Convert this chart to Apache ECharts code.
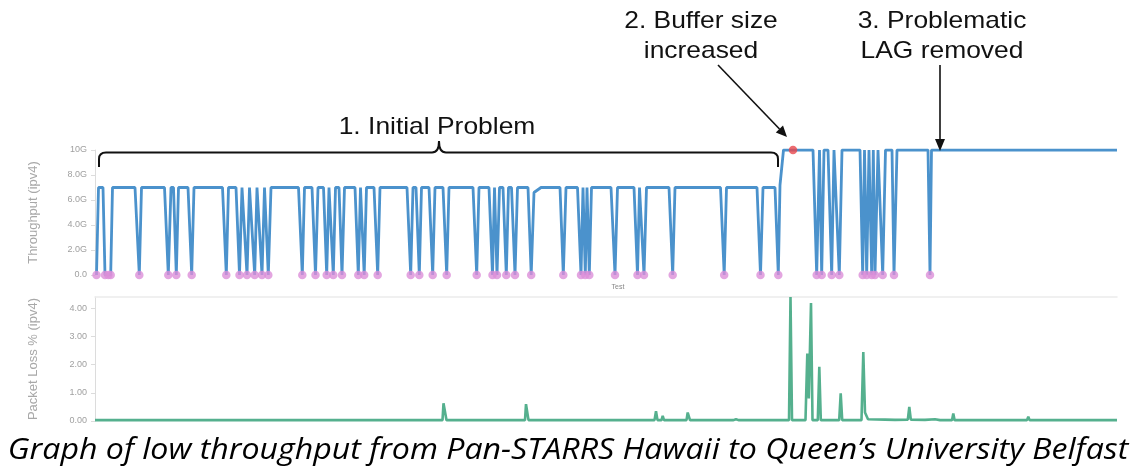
<!DOCTYPE html>
<html>
<head>
<meta charset="utf-8">
<script src="https://cdn.jsdelivr.net/npm/echarts@6/dist/echarts.min.js"></script>
<style>
html,body{margin:0;padding:0;background:#fff;}
#chart{width:1137px;height:469px;}
</style>
</head>
<body>
<div id="chart"></div>
<script>
// x = test index (time order), throughput in Gbit/s
const throughput = [
  [1.5,0],[3.5,7],[8,7],[10,0],[13.3,0],[15.7,0],[17.5,7],
  [40,7],[44.3,0],[46.5,7],
  [69.5,7],[73.3,0],[76,7],[78.5,7],[81.3,0],[83.5,7],
  [93,7],[96.7,0],[99,7],
  [127.5,7],[131.3,0],[133.5,7],
  [141,7],[144.5,0],[147,7],[149,7],[152,0],[154.5,7],[156.5,7],[159.7,0],[162,7],[164,7],[167,0],[169.5,7],[171,7],[173.3,0],[176,7],
  [203.5,7],[207.3,0],[209.5,7],
  [217,7],[220.5,0],[223,7],[228.5,7],[231.7,0],[234,7],[235.5,7],[238.3,0],[240.5,7],[244,7],[247,0],[249.5,7],
  [260,7],[263.3,0],[265.5,7],[266.5,7],[269.2,0],[271.5,7],
  [279,7],[282.7,0],[285,7],
  [312,7],[315.7,0],[318,7],[321,7],[324.3,0],[326.5,7],
  [334,7],[337.7,0],[340,7],[348,7],[351.7,0],[354,7],
  [378,7],[381.7,0],[384,7],
  [394,7],[397.5,0],[399.5,7],[400,7],[402,0],[404.5,7],
  [408,7],[411.3,0],[413.5,7],[416.5,7],[420,0],[422.5,7],
  [433,7],[436.2,0],[439,6.6],[446,7],
  [465,7],[468.3,0],[471,7],
  [482.5,7],[486,0],[488,7],[488.5,7],[490.3,0],[492,7],[492.5,7],[494.3,0],[496.5,7],
  [516,7],[520,0],[522.5,7],
  [539,7],[542.5,0],[544.5,7],[546,7],[549,0],[551.5,7],
  [574,7],[577.7,0],[580,7],
  [625.5,7],[629.2,0],[631.5,7],
  [662,7],[665.5,0],[668,7],
  [680,7],[683.3,0],[685,7.2],[688.5,10],
  [698,10],
  [718,10],[721.7,0],[724.5,10],[725,10],[726.7,0],[729,10],[733,10],[736.7,0],[739,10],[741,10],[744.3,0],[747,10],
  [765,10],[767.7,0],[769.5,10],[770,10],[771.7,0],[774,10],[775,10],[776.7,0],[778.3,10],[778.5,10],[780,0],[783,10],
  [785,10],[787.7,0],[790.5,10],
  [797,10],[799,0],[802,10],
  [833,10],[835,0],[836.5,10],
  [1022,10]
];
const bufferChangePoint = [[698,10]];
// packet loss %
const packetLoss = [
  [0,0.03],[347.5,0.03],[348.5,0.63],[350.5,0.63],[351.5,0.03],
  [430,0.03],[431,0.6],[432.5,0.6],[433.5,0.03],
  [559.5,0.03],[561,0.35],[562.5,0.03],
  [566.5,0.03],[567.7,0.18],[569,0.03],
  [591.5,0.03],[592.7,0.3],[594,0.3],[595,0.03],
  [638,0.03],[641,0.06],[644,0.03],
  [694,0.03],[695.5,4.4],[697,0.03],
  [710.5,0.03],[712.3,2.39],[713.8,0.8],[716,4.19],[717.5,0.03],
  [722.8,0.03],[724.3,1.92],[725.8,0.03],
  [744.2,0.03],[745.7,0.98],[747.2,0.03],
  [766.5,0.03],[768.3,2.45],[770,0.3],[771.7,0.25],[773,0.06],
  [790,0.05],[800,0.04],[812.8,0.05],[814.3,0.5],[815.8,0.05],
  [830,0.04],[840,0.06],[845,0.03],
  [857,0.03],[858.3,0.27],[859.6,0.03],
  [932,0.03],[933.3,0.15],[934.6,0.03],
  [1022,0.03]
];
const throughputTicks = [0,2,4,6,8,10];
const lossTicks = [0,1,2,3,4];

const zeroPoints = throughput.filter(p => p[1] === 0);

const chart = echarts.init(document.getElementById('chart'), null, {renderer:'canvas'});

const axisGray = '#dcdcdc';
const labelGray = '#a0a0a0';
const annFont = '"Liberation Sans", Arial, sans-serif';
const ink = '#111';

function annText(text, x, y) {
  return {type:'text', x:x, y:y, scaleX:1.1, z:100,
    style:{text:text, fontSize:24, fontFamily:annFont, fill:ink, textAlign:'center', textVerticalAlign:'middle'}};
}
function seg(x1,y1,x2,y2,w) {
  return {type:'line', z:100, shape:{x1:x1,y1:y1,x2:x2,y2:y2}, style:{stroke:ink, lineWidth:w||2}};
}
function curve(x1,y1,cx,cy,x2,y2) {
  return {type:'bezierCurve', z:100, shape:{x1:x1,y1:y1,cpx1:cx,cpy1:cy,x2:x2,y2:y2}, style:{stroke:ink, lineWidth:2, fill:null}};
}

const option = {
  animation:false,
  backgroundColor:'#fff',
  grid:[
    {left:95, right:20, top:150, height:125},
    {left:95, right:20, top:297, height:124}
  ],
  xAxis:[
    {gridIndex:0, type:'value', min:0, max:1022,
      axisLine:{show:false}, axisTick:{show:false}, axisLabel:{show:false}, splitLine:{show:false},
      name:'Test', nameLocation:'middle', nameGap:9,
      nameTextStyle:{fontSize:7, color:'#888', padding:[0,0,0,24]}},
    {gridIndex:1, type:'value', min:0, max:1022, show:false},
    {gridIndex:1, type:'value', min:0, max:1022, position:'top',
      axisLine:{show:true, lineStyle:{color:'#ececec', width:1.5}}, axisTick:{show:false}, axisLabel:{show:false}, splitLine:{show:false}}
  ],
  yAxis:[
    {gridIndex:0, type:'value', min:throughputTicks[0], max:throughputTicks[throughputTicks.length-1], interval:2,
      axisLine:{show:true, lineStyle:{color:axisGray}},
      axisTick:{show:true, length:4, lineStyle:{color:axisGray}},
      axisLabel:{fontSize:9, color:labelGray, margin:8, fontFamily:'Liberation Sans',
        formatter:v => v === 0 ? '0.0' : (v >= 10 ? v + 'G' : v.toFixed(1) + 'G')},
      splitLine:{show:false},
      name:'Throughput (ipv4)', nameLocation:'middle', nameGap:55,
      nameTextStyle:{fontSize:13, color:'#a8a8a8', fontFamily:'Liberation Sans'}},
    {gridIndex:1, type:'value', min:0, max:4.4, interval:1,
      axisLine:{show:true, lineStyle:{color:axisGray}},
      axisTick:{show:true, length:4, lineStyle:{color:axisGray}},
      axisLabel:{fontSize:9, color:labelGray, margin:8, fontFamily:'Liberation Sans', showMaxLabel:false,
        formatter:v => lossTicks.indexOf(v) >= 0 ? v.toFixed(2) : ''},
      splitLine:{show:false},
      name:'Packet Loss % (ipv4)', nameLocation:'middle', nameGap:55,
      nameTextStyle:{fontSize:13, color:'#a8a8a8', fontFamily:'Liberation Sans'}}
  ],
  series:[
    {type:'line', xAxisIndex:0, yAxisIndex:0, data:throughput, showSymbol:false, silent:true,
      lineStyle:{color:'#4b92cc', width:2.8}, z:2},
    {type:'scatter', xAxisIndex:0, yAxisIndex:0, data:zeroPoints, symbolSize:8.5, silent:true,
      itemStyle:{color:'#dc8ed8'}, z:3},
    {type:'scatter', xAxisIndex:0, yAxisIndex:0, data:bufferChangePoint, symbolSize:8.5, silent:true,
      itemStyle:{color:'#e8474c'}, z:4},
    {type:'line', xAxisIndex:1, yAxisIndex:1, data:packetLoss, showSymbol:false, silent:true,
      lineStyle:{color:'#55b08e', width:2.6}, z:2}
  ],
  graphic:[
    seg(99,167,99,159),
    curve(99,159,99,152.5,106,152.5),
    seg(106,152.5,432,152.5),
    curve(432,152.5,439,152.5,439,141),
    curve(439,141,439,152.5,446,152.5),
    seg(446,152.5,771,152.5),
    curve(771,152.5,778,152.5,778,159),
    seg(778,159,778,167),
    annText('1. Initial Problem', 437, 127),
    annText('2. Buffer size', 701, 21),
    annText('increased', 701, 51),
    annText('3. Problematic', 942, 21),
    annText('LAG removed', 942, 51),
    seg(718,65,779.5,129,1.6),
    {type:'polygon', z:100, shape:{points:[[787,137],[775.8,132.6],[783,125.6]]}, style:{fill:ink}},
    seg(940,65,940,141,1.6),
    {type:'polygon', z:100, shape:{points:[[940,151],[935,139],[945,139]]}, style:{fill:ink}},
    {type:'text', x:568, y:450, z:100, scaleX:1.07,
      style:{text:'Graph of low throughput from Pan-STARRS Hawaii to Queen\u2019s University Belfast',
        fontSize:30, fontStyle:'italic', fontFamily:'"Open Sans", sans-serif', fill:'#000',
        textAlign:'center', textVerticalAlign:'middle'}}
  ]
};
chart.setOption(option);
</script>
</body>
</html>
